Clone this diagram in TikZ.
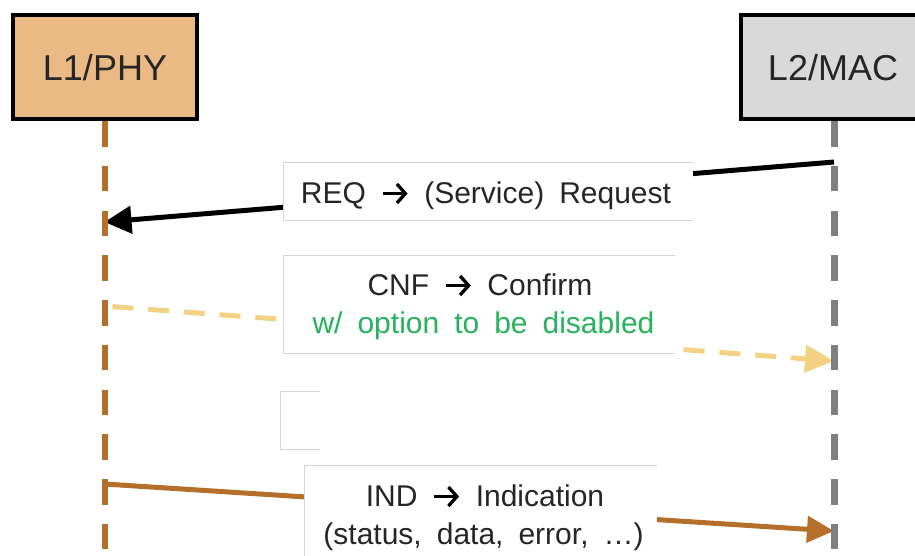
\documentclass[tikz,border=0pt]{standalone}
\usepackage{fontspec}
\setmainfont[WordSpace=1.8]{Liberation Sans}
\usetikzlibrary{arrows.meta}
\definecolor{phyfill}{HTML}{EAB984}
\definecolor{macfill}{HTML}{D9D9D9}
\definecolor{phybrown}{HTML}{B4702A}
\definecolor{cnfyel}{HTML}{F4D283}
\definecolor{macgray}{HTML}{7F7F7F}
\definecolor{boxgray}{HTML}{D4D4D4}
\definecolor{txt}{HTML}{262626}
\definecolor{okgreen}{HTML}{27B25C}
\newcommand{\myarr}{\tikz[baseline=0pt]{\draw[black, line width=3.3pt,-{Straight Barb[length=8.5pt,width=19pt]}] (0pt,9.5pt) -- (25pt,9.5pt);}}
\begin{document}
\begin{tikzpicture}[x=1pt,y=-1pt,
  hdr/.style={draw=black, line width=4pt, minimum width=184pt, minimum height=104pt, inner sep=0pt},
  hdrtext/.style={anchor=base, inner sep=0pt, text=txt, font=\fontsize{36}{40}\selectfont},
  life/.style={line width=6pt, dash pattern=on 25.5pt off 19.25pt},
  msgline/.style={line width=5pt},
  wbox/.style={fill=white, inner sep=0pt},
  bord/.style={draw=boxgray, line width=1pt},
  lbl/.style={anchor=base, inner sep=0pt, text=txt, font=\fontsize{30}{36}\selectfont}]
\useasboundingbox (0,0) rectangle (915,555);
\clip (0,0) rectangle (915,555);

% header boxes
\node[hdr, fill=phyfill] (phy) at (104.5,67) {};
\node[hdr, fill=macfill, minimum width=186pt] (mac) at (834,67) {};

% lifeline ends
\coordinate (phyend) at (104.5,570);
\coordinate (macend) at (834,570);

% message end points
\coordinate (reqs) at (834,162);
\coordinate (reqe) at (104.5,222);
\coordinate (cnfs) at (104.5,306);
\coordinate (cnfe) at (834,361);
\coordinate (inds) at (104.5,484);
\coordinate (inde) at (834,531);

% messages
\draw[msgline, black, -{Triangle[length=27pt,width=27pt]}] (reqs) -- (reqe);
\draw[msgline, cnfyel, dash pattern=on 21pt off 14.8pt, dash phase=27.8pt, -{Triangle[length=29pt,width=27pt]}] (cnfs) -- (cnfe);
\draw[msgline, phybrown, -{Triangle[length=27pt,width=26pt]}] (inds) -- (inde);

% lifelines
\draw[life, phybrown] (phy.south) -- (phyend);
\draw[life, macgray, line width=7pt] (mac.south) -- (macend);

% header boxes redrawn on top
\node[hdr, fill=phyfill] (phy2) at (104.5,67) {};
\node[hdr, fill=macfill, minimum width=186pt] (mac2) at (834,67) {};
\node[hdrtext] (phyt) at (105,80) {L1/PHY};
\node[hdrtext] (mact) at (833,80) {L2/MAC};

% text boxes
\node[wbox, minimum width=409pt, minimum height=57pt] (reqbox) at (488.5,191.5) {};
\draw[bord] (reqbox.north east) -- (reqbox.north west) -- (reqbox.south west) -- (reqbox.south east);
\node[wbox, minimum width=391pt, minimum height=97pt] (cnfbox) at (479.5,304.5) {};
\draw[bord] (cnfbox.north east) -- (cnfbox.north west) -- (cnfbox.south west) -- (cnfbox.south east);
\node[wbox, minimum width=39pt, minimum height=57pt] (emptybox) at (300.5,420.5) {};
\draw[bord] (emptybox.north east) -- (emptybox.north west) -- (emptybox.south west) -- (emptybox.south east);
\node[wbox, minimum width=352pt, minimum height=104pt] (indbox) at (481,518) {};
\draw[bord] (indbox.north east) -- (indbox.north west) -- (indbox.south west);

% labels
\node[lbl] (reqt) at (486,203) {REQ \myarr{} (Service) Request};
\node[lbl] (cnft1) at (480,295) {CNF \myarr{} Confirm};
\node[lbl, text=okgreen] (cnft2) at (483.5,333) {w/ option to be disabled};
\node[lbl] (indt1) at (485,506) {IND \myarr{} Indication};
\node[lbl] (indt2) at (483.5,544) {(status, data, error, …)};
\end{tikzpicture}
\end{document}
